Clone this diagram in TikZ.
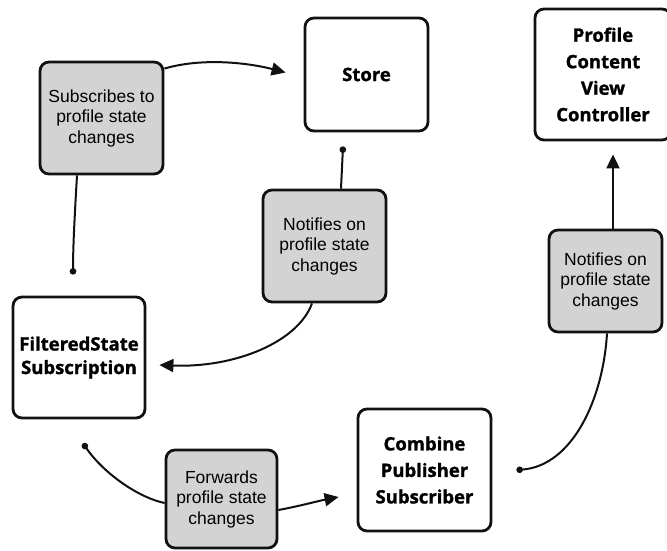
\documentclass[tikz,border=0pt]{standalone}
\usepackage{fontspec}
\setmainfont{Liberation Sans}
\newfontfamily\titlefont{Open Sans}[BoldFeatures={FakeBold=1.3}]
\usetikzlibrary{arrows.meta,calc}
\definecolor{boxgray}{HTML}{D3D3D3}
\definecolor{ink}{HTML}{111111}
\tikzset{
  box/.style={draw=ink, line width=2.8pt, rounded corners=9pt, align=center, inner sep=0pt, fill=white},
  graybox/.style={box, fill=boxgray},
  titletext/.style={font=\titlefont\bfseries\fontsize{18.5}{26.5}\selectfont},
  notetext/.style={font=\fontsize{17.5}{20.5}\selectfont},
  conn/.style={draw=ink, line width=2pt},
  arr/.style={conn, -{Triangle[length=14pt,width=13pt]}},
  dotted end/.style={conn, {Circle[length=6.5pt]}-},
}
\begin{document}
\begin{tikzpicture}[x=1pt,y=-1pt]
\clip (0,0) rectangle (667,550);
\fill[white] (0,0) rectangle (667,550);

% boxes
\node[box, titletext, minimum width=123pt, minimum height=113pt] (store) at (366.5,74.5) {Store};
\node[box, titletext, minimum width=136pt, minimum height=131pt] (prof) at (603,74.5) {Profile\\Content\\View\\Controller};
\node[graybox, notetext, minimum width=123pt, minimum height=112pt] (sub) at (101.5,118) {Subscribes to\\profile state\\changes};
\node[graybox, notetext, minimum width=123pt, minimum height=112pt] (notm) at (324.5,246) {Notifies on\\profile state\\changes};
\node[box, font=\titlefont\bfseries\fontsize{18.5}{23.5}\selectfont, minimum width=132pt, minimum height=121pt] (filt) at (79,357.5) {FilteredState\\Subscription};
\node[graybox, notetext, minimum width=111pt, minimum height=98pt] (fwd) at (221.5,499) {Forwards\\profile state\\changes};
\node[box, titletext, minimum width=133pt, minimum height=122pt] (comb) at (424.5,470) {Combine\\Publisher\\Subscriber};
\node[graybox, notetext, minimum width=113pt, minimum height=102pt] (notr) at (605.5,281) {Notifies on\\profile state\\changes};

% free ends
\coordinate (e1) at ($(filt.north)+(-6,-21)$);
\coordinate (e2) at ($(store.south)+(-23.5,14)$);
\coordinate (e3) at ($(filt.south)+(4,24)$);
\coordinate (e4) at ($(comb.east)+(24,0)$);

% connectors
\draw[arr] ($(sub.north east)+(0,8)$) .. controls (200,58) and (245,62) .. ($(store.west)+(-18,-2)$);
\draw[dotted end] (e1) .. controls (73,245) and (75,210) .. ($(sub.south)+(-24.5,0)$);
\draw[dotted end] (e2) -- ($(notm.north)+(16.5,0)$);
\draw[arr] ($(notm.south)+(-12.5,0)$) .. controls (298,342) and (235,368) .. ($(filt.east)+(13,7.5)$);
\draw[dotted end] (e3) .. controls (105,475) and (140,498) .. ($(fwd.west)+(0,4)$);
\draw[arr] ($(fwd.east)+(0,11)$) .. controls (300,506) and (318,501) .. ($(comb.west)+(-18,27)$);
\draw[dotted end] (e4) .. controls (572,466) and (603,400) .. ($(notr.south)+(1.5,0)$);
\draw[arr] ($(notr.north)+(7.5,0)$) -- ($(prof.south)+(10,13)$);
\end{tikzpicture}
\end{document}
